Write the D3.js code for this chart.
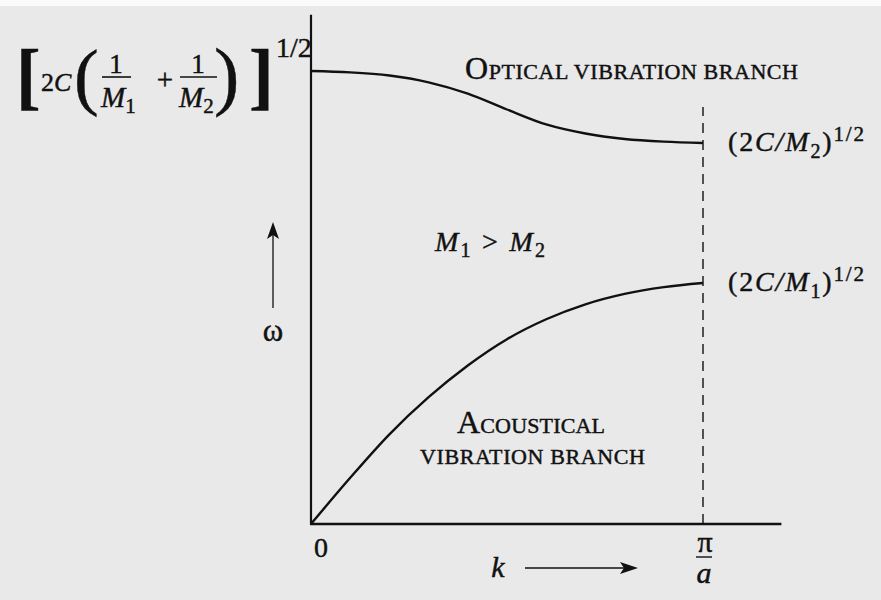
<!DOCTYPE html>
<html>
<head>
<meta charset="utf-8">
<script src="https://cdn.jsdelivr.net/npm/d3@7"></script>
<style>
  html, body { margin: 0; padding: 0; background: #e9e9e9; }
  svg { display: block; }
  text { font-family: "Liberation Serif", "Times New Roman", serif; fill: #111; stroke: #111; stroke-width: 0.45px; }
</style>
</head>
<body>
<svg id="chart" width="881" height="600"></svg>
<script>
// Wave number k, as a fraction of the zone boundary π/a
const kValues = [0, 0.1, 0.2, 0.3, 0.4, 0.5, 0.6, 0.7, 0.8, 0.9, 1.0];
// Frequency ω, relative to [2C(1/M1 + 1/M2)]^1/2
const opticalBranch  = [1.000, 0.997, 0.990, 0.975, 0.950, 0.915, 0.882, 0.862, 0.850, 0.844, 0.841];
const acousticBranch = [0.000, 0.102, 0.198, 0.280, 0.350, 0.408, 0.452, 0.485, 0.508, 0.523, 0.532];
// Axis extents beyond the plotted range
const kAxisMax = 1.2;
const omegaAxisMax = 1.124;

const svg = d3.select("#chart");
const ink = "#111";

// paper
svg.append("rect").attr("width", 881).attr("height", 600).attr("fill", "#e9e9e9");
svg.append("rect").attr("width", 881).attr("height", 6).attr("fill", "#fafafa");

const x = d3.scaleLinear().domain([0, 1]).range([311, 703]);
const y = d3.scaleLinear().domain([0, 1]).range([524, 71]);

// axes
svg.append("line")
  .attr("x1", x(0)).attr("x2", x(0))
  .attr("y1", y(0)).attr("y2", y(omegaAxisMax))
  .attr("stroke", ink).attr("stroke-width", 2.2);
svg.append("line")
  .attr("x1", x(0) - 1).attr("x2", x(kAxisMax))
  .attr("y1", y(0)).attr("y2", y(0))
  .attr("stroke", ink).attr("stroke-width", 2.6);

// zone boundary k = π/a
svg.append("line")
  .attr("x1", x(1)).attr("x2", x(1))
  .attr("y1", y(0)).attr("y2", y(opticalBranch[opticalBranch.length - 1]) - 36)
  .attr("stroke", ink).attr("stroke-width", 1.4)
  .attr("stroke-dasharray", "10 7");

// dispersion branches
const line = d3.line()
  .x((d, i) => x(kValues[i]))
  .y(d => y(d))
  .curve(d3.curveMonotoneX);

svg.append("path").datum(opticalBranch)
  .attr("d", line).attr("fill", "none")
  .attr("stroke", ink).attr("stroke-width", 2.4);
svg.append("path").datum(acousticBranch)
  .attr("d", line).attr("fill", "none")
  .attr("stroke", ink).attr("stroke-width", 2.4);

// helper for text pieces
function txt(xp, yp, size, str, opts = {}) {
  const t = svg.append("text")
    .attr("x", xp).attr("y", yp)
    .attr("font-size", size)
    .text(str);
  if (opts.italic) t.attr("font-style", "italic");
  if (opts.bold) t.attr("font-weight", "bold");
  if (opts.anchor) t.attr("text-anchor", opts.anchor);
  return t;
}

// ---- top-left value of ω at k = 0 ----
txt(16, 101, 74, "[", { bold: true });
txt(74, 101, 74, "(");
const twoC = svg.append("text").attr("x", 41).attr("y", 91).attr("font-size", 26);
twoC.append("tspan").text("2");
twoC.append("tspan").attr("font-style", "italic").text("C");

function fraction(cx, barL, barR, sub) {
  txt(cx, 73, 27, "1", { anchor: "middle" });
  svg.append("line")
    .attr("x1", barL).attr("x2", barR).attr("y1", 77).attr("y2", 77)
    .attr("stroke", ink).attr("stroke-width", 1.6);
  const m = svg.append("text").attr("x", barL - 1).attr("y", 107).attr("font-size", 29);
  m.append("tspan").attr("font-style", "italic").text("M");
  m.append("tspan").attr("font-size", 21).attr("dy", 6).text(sub);
}
fraction(116, 102, 131, "1");
txt(165, 89, 29, "+", { anchor: "middle" });
fraction(198, 180, 217, "2");
txt(214, 101, 76, ")");
txt(249, 101, 74, "]", { bold: true });
txt(276, 57, 28, "1/2");

// ---- edge values at the zone boundary ----
function edgeLabel(omega, sub) {
  const base = y(omega) + 8;
  const t = svg.append("text")
    .attr("x", x(1) + 25).attr("y", base)
    .attr("font-size", 28)
    .attr("textLength", 136).attr("lengthAdjust", "spacing");
  t.append("tspan").text("(2");
  t.append("tspan").attr("font-style", "italic").text("C/M");
  t.append("tspan").attr("font-size", 20).attr("dy", 7).text(sub);
  t.append("tspan").attr("dy", -7).text(")");
  t.append("tspan").attr("font-size", 21).attr("dy", -10).text("1/2");
}
edgeLabel(opticalBranch[opticalBranch.length - 1], "2");
edgeLabel(acousticBranch[acousticBranch.length - 1], "1");

// ---- branch names in small capitals ----
function smallCaps(xp, yp, width, first, rest) {
  const t = svg.append("text").attr("x", xp).attr("y", yp)
    .attr("textLength", width).attr("lengthAdjust", "spacing");
  if (first) t.append("tspan").attr("font-size", 32).text(first);
  t.append("tspan").attr("font-size", 22).text(rest);
}
smallCaps(465, 79, 333, "O", "PTICAL VIBRATION BRANCH");
smallCaps(457, 433, 148, "A", "COUSTICAL");
smallCaps(420, 464, 225, null, "VIBRATION BRANCH");

// ---- mass condition ----
const cond = svg.append("text").attr("x", 435).attr("y", 251).attr("font-size", 28)
  .attr("textLength", 110).attr("lengthAdjust", "spacing");
cond.append("tspan").attr("font-style", "italic").text("M");
cond.append("tspan").attr("font-size", 20).attr("dy", 6).text("1");
cond.append("tspan").attr("dy", -6).text(" > ");
cond.append("tspan").attr("font-style", "italic").text("M");
cond.append("tspan").attr("font-size", 20).attr("dy", 6).text("2");

// ---- ω axis label with arrow ----
svg.append("line").attr("x1", 273).attr("x2", 273).attr("y1", 308).attr("y2", 232)
  .attr("stroke", ink).attr("stroke-width", 1.3);
svg.append("path").attr("d", "M273,222 L279,239 L273,235 L267,239 Z").attr("fill", ink);
txt(273, 341, 31, "ω", { anchor: "middle" });

// ---- k axis label with arrow ----
txt(498, 577, 30, "k", { italic: true, anchor: "middle" });
svg.append("line").attr("x1", 525).attr("x2", 628).attr("y1", 568).attr("y2", 568)
  .attr("stroke", ink).attr("stroke-width", 1.3);
svg.append("path").attr("d", "M638,568 L620,562 L624,568 L620,574 Z").attr("fill", ink);

// ---- k tick labels ----
txt(x(0) + 10, 557, 28, "0", { anchor: "middle" });
txt(x(1) + 2, 552, 30, "π", { anchor: "middle" });
svg.append("line").attr("x1", x(1) - 7).attr("x2", x(1) + 9).attr("y1", 557).attr("y2", 557)
  .attr("stroke", ink).attr("stroke-width", 1.4);
txt(x(1) + 1, 583, 30, "a", { italic: true, anchor: "middle" });
</script>
</body>
</html>
